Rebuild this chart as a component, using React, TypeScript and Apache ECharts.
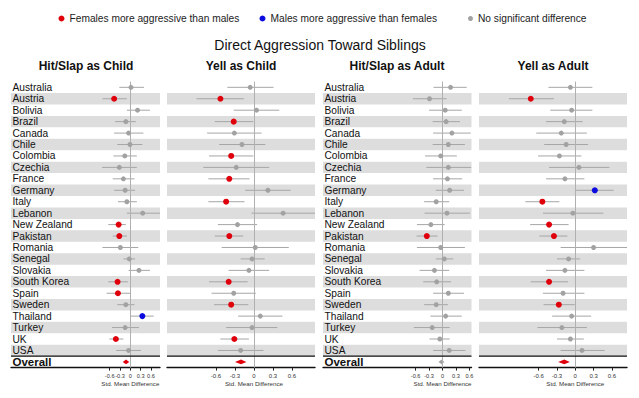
import React, { useEffect, useRef } from 'react';
import * as echarts from 'echarts';

const countries = ['Australia', 'Austria', 'Bolivia', 'Brazil', 'Canada', 'Chile', 'Colombia', 'Czechia', 'France', 'Germany', 'Italy', 'Lebanon', 'New Zealand', 'Pakistan', 'Romania', 'Senegal', 'Slovakia', 'South Korea', 'Spain', 'Sweden', 'Thailand', 'Turkey', 'UK', 'USA'];
const overallLabel = 'Overall';
const rowLabels = [...countries, overallLabel];

const mainTitle = 'Direct Aggression Toward Siblings';
const panelTitles = ['Hit/Slap as Child', 'Yell as Child', 'Hit/Slap as Adult', 'Yell as Adult'];
const tickValues = [-0.6, -0.3, 0, 0.3, 0.6];
const axisName = 'Std. Mean Difference';
const legendNames = ['Females more aggressive than males', 'Males more aggressive than females', 'No significant difference'];
const sigCodes = ['F', 'M', 'N'];

// Hit/Slap as Child
const hitChildEst = [0.02, -0.47, 0.21, -0.13, -0.05, -0.01, -0.16, -0.32, -0.20, -0.15, -0.10, 0.36, -0.34, -0.32, -0.29, -0.03, 0.25, -0.37, -0.36, -0.13, 0.35, -0.15, -0.42, -0.05];
const hitChildLo = [-0.32, -0.81, -0.10, -0.44, -0.47, -0.38, -0.49, -0.82, -0.51, -0.47, -0.36, -0.10, -0.64, -0.51, -0.81, -0.20, -0.05, -0.64, -0.69, -0.38, 0.02, -0.53, -0.61, -0.41];
const hitChildHi = [0.40, -0.10, 0.57, 0.16, 0.38, 0.35, 0.19, 0.19, 0.12, 0.14, 0.19, 0.95, -0.13, -0.10, 0.23, 0.14, 0.57, -0.07, -0.01, 0.12, 0.68, 0.25, -0.20, 0.31];
const hitChildSig = ['N', 'F', 'N', 'N', 'N', 'N', 'N', 'N', 'N', 'N', 'N', 'N', 'F', 'F', 'N', 'N', 'N', 'F', 'F', 'N', 'M', 'N', 'F', 'N'];
const hitChildOverall = [-0.125, -0.22, -0.03];
const hitChildOverallSig = 'F';

// Yell as Child
const yellChildEst = [-0.06, -0.53, 0.04, -0.32, -0.31, -0.19, -0.36, -0.28, -0.39, 0.22, -0.44, 0.46, -0.26, -0.39, 0.02, -0.03, -0.08, -0.40, -0.32, -0.36, 0.10, -0.03, -0.31, -0.21];
const yellChildLo = [-0.42, -0.91, -0.32, -0.62, -0.74, -0.55, -0.71, -0.80, -0.72, -0.14, -0.72, -0.04, -0.57, -0.62, -0.51, -0.21, -0.40, -0.71, -0.67, -0.63, -0.25, -0.44, -0.53, -0.57];
const yellChildHi = [0.31, -0.16, 0.40, -0.01, 0.12, 0.18, -0.01, 0.24, -0.07, 0.58, -0.15, 1.0, 0.05, -0.17, 0.55, 0.17, 0.24, -0.10, 0.03, -0.09, 0.45, 0.37, -0.08, 0.15];
const yellChildSig = ['N', 'F', 'N', 'F', 'N', 'N', 'F', 'N', 'F', 'N', 'F', 'N', 'N', 'F', 'N', 'N', 'N', 'F', 'N', 'F', 'N', 'N', 'F', 'N'];
const yellChildOverall = [-0.205, -0.30, -0.12];
const yellChildOverallSig = 'F';

// Hit/Slap as Adult
const hitAdultEst = [0.18, -0.29, 0.06, 0.08, 0.21, 0.13, -0.04, 0.13, 0.11, 0.16, -0.14, 0.10, -0.26, -0.35, -0.04, 0.04, -0.18, -0.13, 0.13, -0.14, 0.07, -0.23, -0.06, 0.15];
const hitAdultLo = [-0.20, -0.66, -0.30, -0.22, -0.21, -0.22, -0.39, -0.36, -0.21, -0.15, -0.41, -0.40, -0.57, -0.58, -0.57, -0.15, -0.51, -0.43, -0.21, -0.41, -0.27, -0.64, -0.29, -0.21];
const hitAdultHi = [0.54, 0.09, 0.43, 0.39, 0.63, 0.50, 0.32, 0.64, 0.44, 0.48, 0.15, 0.61, 0.05, -0.11, 0.50, 0.24, 0.15, 0.19, 0.48, 0.12, 0.43, 0.16, 0.16, 0.51];
const hitAdultSig = ['N', 'N', 'N', 'N', 'N', 'N', 'N', 'N', 'N', 'N', 'N', 'N', 'N', 'F', 'N', 'N', 'N', 'N', 'N', 'N', 'N', 'N', 'N', 'N'];
const hitAdultOverall = [-0.02, -0.09, 0.04];
const hitAdultOverallSig = 'N';

// Yell as Adult
const yellAdultEst = [-0.08, -0.73, -0.06, -0.18, -0.23, -0.15, -0.26, 0.06, -0.17, 0.32, -0.54, -0.04, -0.43, -0.35, 0.30, -0.11, -0.17, -0.43, -0.20, -0.27, -0.06, -0.22, -0.08, 0.11];
const yellAdultLo = [-0.44, -1.09, -0.41, -0.48, -0.64, -0.51, -0.61, -0.43, -0.48, 0.01, -0.82, -0.53, -0.74, -0.59, -0.24, -0.30, -0.48, -0.73, -0.53, -0.52, -0.38, -0.62, -0.30, -0.24];
const yellAdultHi = [0.28, -0.35, 0.28, 0.12, 0.19, 0.21, 0.10, 0.56, 0.15, 0.63, -0.26, 0.46, -0.11, -0.13, 0.90, 0.08, 0.15, -0.12, 0.15, -0.01, 0.26, 0.19, 0.14, 0.48];
const yellAdultSig = ['N', 'F', 'N', 'N', 'N', 'N', 'N', 'N', 'N', 'M', 'F', 'N', 'F', 'F', 'N', 'N', 'N', 'F', 'N', 'F', 'N', 'N', 'N', 'N'];
const yellAdultOverall = [-0.18, -0.28, -0.09];
const yellAdultOverallSig = 'F';

const panels = [
  { est: hitChildEst, lo: hitChildLo, hi: hitChildHi, sig: hitChildSig, overall: hitChildOverall, overallSig: hitChildOverallSig },
  { est: yellChildEst, lo: yellChildLo, hi: yellChildHi, sig: yellChildSig, overall: yellChildOverall, overallSig: yellChildOverallSig },
  { est: hitAdultEst, lo: hitAdultLo, hi: hitAdultHi, sig: hitAdultSig, overall: hitAdultOverall, overallSig: hitAdultOverallSig },
  { est: yellAdultEst, lo: yellAdultLo, hi: yellAdultHi, sig: yellAdultSig, overall: yellAdultOverall, overallSig: yellAdultOverallSig },
];

// layout (styling, not data)
const FONT = '"Liberation Sans", Arial, Helvetica, sans-serif';
const COLORS: Record<string, string> = { F: '#e0000c', M: '#0b0be0', N: '#a2a2a2' };
const GRID_TOP = 81.6;
const GRID_H = 286;
const layouts = [
  { left: 11, width: 149, min: -3.468, max: 0.863, labels: true, titleX: 86, tickFont: 5.6 },
  { left: 167, width: 148, min: -1.374, max: 0.964, labels: false, titleX: 241, tickFont: 6 },
  { left: 323, width: 148.5, min: -2.667, max: 0.647, labels: true, titleX: 397, tickFont: 5.6 },
  { left: 479, width: 148, min: -1.579, max: 0.848, labels: false, titleX: 553, tickFont: 6 },
];
const legendLefts = [58.5, 259.5, 468];

function buildOption(): any {
  const grid: any[] = [];
  const xAxis: any[] = [];
  const yAxis: any[] = [];
  const series: any[] = [];
  const title: any[] = [
    { text: mainTitle, left: 320, top: 38, textAlign: 'center', padding: 0, textStyle: { fontSize: 14, fontWeight: 'normal', color: '#111', fontFamily: FONT } },
  ];
  layouts.forEach((L, i) => {
    const P = panels[i];
    title.push({ text: panelTitles[i], left: L.titleX, top: 60, textAlign: 'center', padding: 0, textStyle: { fontSize: 12, fontWeight: 'bold', color: '#111', fontFamily: FONT } });
    grid.push({ left: L.left, width: L.width, top: GRID_TOP, height: GRID_H, containLabel: false });
    xAxis.push({
      type: 'value', gridIndex: i, min: L.min, max: L.max,
      axisLine: { show: true, lineStyle: { color: '#111', width: 1.4 } },
      axisTick: { show: true, customValues: tickValues, length: 3, lineStyle: { color: '#222', width: 1 } },
      axisLabel: { show: true, customValues: tickValues, fontSize: L.tickFont, color: '#333', margin: 5, fontFamily: FONT, formatter: (v: number) => String(Math.round(v * 10) / 10) },
      splitLine: { show: false },
    });
    yAxis.push({
      type: 'category', gridIndex: i, data: rowLabels, inverse: true,
      axisLine: { show: false }, axisTick: { show: false, interval: 0 },
      axisLabel: {
        show: L.labels, interval: 0, inside: true, margin: 1.5, fontSize: 10.2, color: '#111', fontFamily: FONT,
        formatter: (v: string) => (v === overallLabel ? '{b|' + v + '}' : v),
        rich: { b: { fontSize: 11.5, fontWeight: 'bold', color: '#111', fontFamily: FONT } },
      },
      splitLine: { show: false },
      splitArea: { show: true, interval: 0, areaStyle: { color: ['rgba(255,255,255,0)', '#dddddd'] } },
    });
    // CI lines
    series.push({
      type: 'custom', xAxisIndex: i, yAxisIndex: i, clip: true, z: 2, silent: true,
      encode: { x: [1, 2, 3], y: 0 },
      data: countries.map((c, k) => [k, P.est[k], P.lo[k], P.hi[k]]),
      renderItem: (params: any, api: any) => {
        const y = api.value(0);
        const a = api.coord([api.value(2), y]);
        const b = api.coord([api.value(3), y]);
        return { type: 'line', shape: { x1: a[0], y1: a[1], x2: b[0], y2: b[1] }, style: { stroke: '#a6a6a6', lineWidth: 1 } };
      },
      markLine: {
        silent: true, symbol: ['none', 'none'], label: { show: false },
        lineStyle: { color: '#b0b0b0', width: 1, type: 'solid' },
        data: [{ xAxis: 0 }],
      },
    });
    // Overall diamond
    series.push({
      type: 'custom', xAxisIndex: i, yAxisIndex: i, clip: true, z: 4, silent: true,
      encode: { x: [1, 2, 3], y: 0 },
      data: [[countries.length, P.overall[0], P.overall[1], P.overall[2]]],
      renderItem: (params: any, api: any) => {
        const y = api.value(0);
        const c = api.coord([api.value(1), y]);
        const a = api.coord([api.value(2), y]);
        const b = api.coord([api.value(3), y]);
        const h = 2.4;
        return {
          type: 'polygon',
          shape: { points: [[a[0], c[1]], [c[0], c[1] - h], [b[0], c[1]], [c[0], c[1] + h]] },
          style: { fill: COLORS[P.overallSig] },
        };
      },
    });
    // points
    sigCodes.forEach((code, k) => {
      const data: any[] = [];
      countries.forEach((c, idx) => { if (P.sig[idx] === code) data.push([P.est[idx], idx]); });
      series.push({
        type: 'scatter', name: legendNames[k], xAxisIndex: i, yAxisIndex: i, z: 5, silent: true,
        symbol: 'circle', symbolSize: code === 'N' ? 5 : 6,
        itemStyle: { color: COLORS[code], opacity: 1 },
        data,
      });
    });
  });
  const legend = legendNames.map((n, k) => ({
    data: [n], left: legendLefts[k], top: 13.5, padding: 0, itemWidth: k === 2 ? 5 : 6, itemHeight: k === 2 ? 5 : 6,
    icon: 'circle', selectedMode: false,
    textStyle: { fontSize: 10.2, color: '#222', fontFamily: FONT },
  }));
  return { animation: false, backgroundColor: '#ffffff', title, legend, grid, xAxis, yAxis, series };
}

export default function App() {
  const ref = useRef<HTMLDivElement>(null);
  useEffect(() => {
    document.body.style.margin = '0';
    if (!ref.current) return;
    const chart = echarts.init(ref.current, null, { renderer: 'svg' });
    chart.setOption(buildOption());
    const graphic: any[] = [];
    layouts.forEach((L, i) => {
      const zx = chart.convertToPixel({ xAxisIndex: i } as any, 0) as unknown as number;
      const yUsa = chart.convertToPixel({ yAxisIndex: i } as any, countries[countries.length - 1]) as unknown as number;
      const yOv = chart.convertToPixel({ yAxisIndex: i } as any, overallLabel) as unknown as number;
      const ySep = (yUsa + yOv) / 2;
      graphic.push({
        type: 'line', silent: true, z: 10,
        shape: { x1: L.left, y1: ySep, x2: L.left + L.width, y2: ySep },
        style: { stroke: '#111', lineWidth: 1.4 },
      });
      graphic.push({
        type: 'text', silent: true, x: zx, y: 383.8,
        style: { text: axisName, fontSize: 6.2, fill: '#333', fontFamily: FONT, align: 'center', verticalAlign: 'middle' },
      });
    });
    chart.setOption({ graphic });
    return () => chart.dispose();
  }, []);
  return <div ref={ref} style={{ position: 'absolute', left: 0, top: 0, width: 639, height: 398 }} />;
}
